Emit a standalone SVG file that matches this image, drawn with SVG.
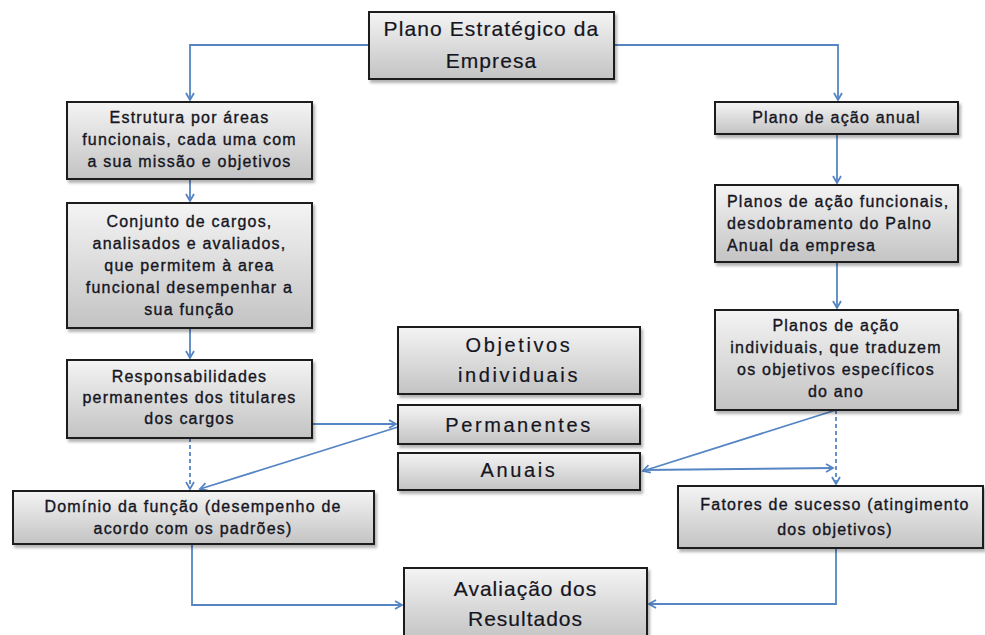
<svg xmlns="http://www.w3.org/2000/svg" width="985" height="635" viewBox="0 0 985 635">
<defs>
<linearGradient id="g" x1="0" y1="0" x2="0" y2="1">
<stop offset="0" stop-color="#f4f4f4"/>
<stop offset="1" stop-color="#c3c3c3"/>
</linearGradient>
<marker id="a" markerWidth="10" markerHeight="10" refX="8" refY="5" orient="auto" markerUnits="userSpaceOnUse">
<path d="M1,1 L8,5 L1,9" fill="none" stroke="#5585c4" stroke-width="1.8"/>
</marker>
<filter id="sh" x="-5%" y="-5%" width="115%" height="130%">
<feDropShadow dx="2" dy="3" stdDeviation="1.5" flood-color="#000" flood-opacity="0.3"/>
</filter>
</defs>
<style>
.box{fill:url(#g);stroke:#1e1e1e;stroke-width:2;filter:url(#sh)}
.t{font-family:"Liberation Sans",Arial,sans-serif;font-size:16px;fill:#15151f;stroke:#15151f;stroke-width:0.35;text-anchor:middle;letter-spacing:1.2px}
.tl{text-anchor:start}
.big{font-size:20px;letter-spacing:2.6px;stroke-width:0.2}
.c{fill:none;stroke:#5585c4;stroke-width:1.8;marker-end:url(#a)}
.d{stroke-dasharray:4,3}
</style>
<g id="connectors">
<path class="c" d="M369,45 H190 V100"/>
<path class="c" d="M614,45 H838 V100"/>
<path class="c" d="M190,179 V201"/>
<path class="c" d="M190,328 V358"/>
<path class="c" d="M312,424 H396"/>
<path class="c d" d="M190,438 V489"/>
<path class="c" d="M398,427 L200,489"/>
<path class="c" d="M192,544 V605 H402"/>
<path class="c" d="M837,134 V183"/>
<path class="c" d="M837,262 V308"/>
<path class="c d" d="M836,410 V484"/>
<path class="c" d="M836,410 L643,471"/>
<path class="c" d="M643,470 L833,468"/>
<path class="c" d="M836,548 V604 H649"/>
</g>
<g id="plano-estrategico">
<rect class="box" x="369" y="12" width="245" height="67"/>
<text class="t big" x="491.5" y="36" style="font-size:21px;letter-spacing:1.1px">Plano Estratégico da</text>
<text class="t big" x="491.5" y="68" style="font-size:21px;letter-spacing:1.1px">Empresa</text>
</g>
<g id="estrutura">
<rect class="box" x="67" y="102" width="245" height="77"/>
<text class="t" x="189.5" y="123">Estrutura por áreas</text>
<text class="t" x="189.5" y="145">funcionais, cada uma com</text>
<text class="t" x="189.5" y="167">a sua missão e objetivos</text>
</g>
<g id="conjunto-cargos">
<rect class="box" x="67" y="203" width="245" height="125"/>
<text class="t" x="189.5" y="227">Conjunto de cargos,</text>
<text class="t" x="189.5" y="249">analisados e avaliados,</text>
<text class="t" x="189.5" y="271">que permitem à area</text>
<text class="t" x="189.5" y="293">funcional desempenhar  a</text>
<text class="t" x="189.5" y="315">sua função</text>
</g>
<g id="responsabilidades">
<rect class="box" x="67" y="360" width="245" height="78"/>
<text class="t" x="189.5" y="382">Responsabilidades</text>
<text class="t" x="189.5" y="403">permanentes  dos titulares</text>
<text class="t" x="189.5" y="424">dos cargos</text>
</g>
<g id="objetivos-individuais">
<rect class="box" x="398" y="327" width="242" height="67"/>
<text class="t big" x="519" y="352">Objetivos</text>
<text class="t big" x="519" y="382">individuais</text>
</g>
<g id="permanentes">
<rect class="box" x="398" y="405" width="242" height="39"/>
<text class="t big" x="519" y="432">Permanentes</text>
</g>
<g id="anuais">
<rect class="box" x="398" y="453" width="242" height="37"/>
<text class="t big" x="519" y="477">Anuais</text>
</g>
<g id="dominio-funcao">
<rect class="box" x="13" y="491" width="361" height="53"/>
<text class="t" x="193" y="512">Domínio da função (desempenho de</text>
<text class="t" x="193" y="534">acordo com os padrões)</text>
</g>
<g id="avaliacao-resultados">
<rect class="box" x="404" y="568" width="243" height="72"/>
<text class="t big" x="525.5" y="596" style="letter-spacing:1px;font-size:21px">Avaliação dos</text>
<text class="t big" x="525.5" y="626" style="letter-spacing:1px;font-size:21px">Resultados</text>
</g>
<g id="plano-acao-anual">
<rect class="box" x="715" y="102" width="243" height="32"/>
<text class="t" x="836.5" y="123">Plano de ação anual</text>
</g>
<g id="planos-funcionais">
<rect class="box" x="715" y="185" width="243" height="77"/>
<text class="t tl" x="727" y="207">Planos de ação funcionais,</text>
<text class="t tl" x="727" y="229">desdobramento  do Palno</text>
<text class="t tl" x="727" y="251">Anual da empresa</text>
</g>
<g id="planos-individuais">
<rect class="box" x="715" y="310" width="243" height="100"/>
<text class="t" x="836" y="331">Planos de ação</text>
<text class="t" x="836" y="353">individuais, que traduzem</text>
<text class="t" x="836" y="375">os objetivos específicos</text>
<text class="t" x="836" y="397">do ano</text>
</g>
<g id="fatores-sucesso">
<rect class="box" x="678" y="486" width="305" height="62"/>
<text class="t" x="835" y="510">Fatores de sucesso (atingimento</text>
<text class="t" x="835" y="535">dos objetivos)</text>
</g>
</svg>
